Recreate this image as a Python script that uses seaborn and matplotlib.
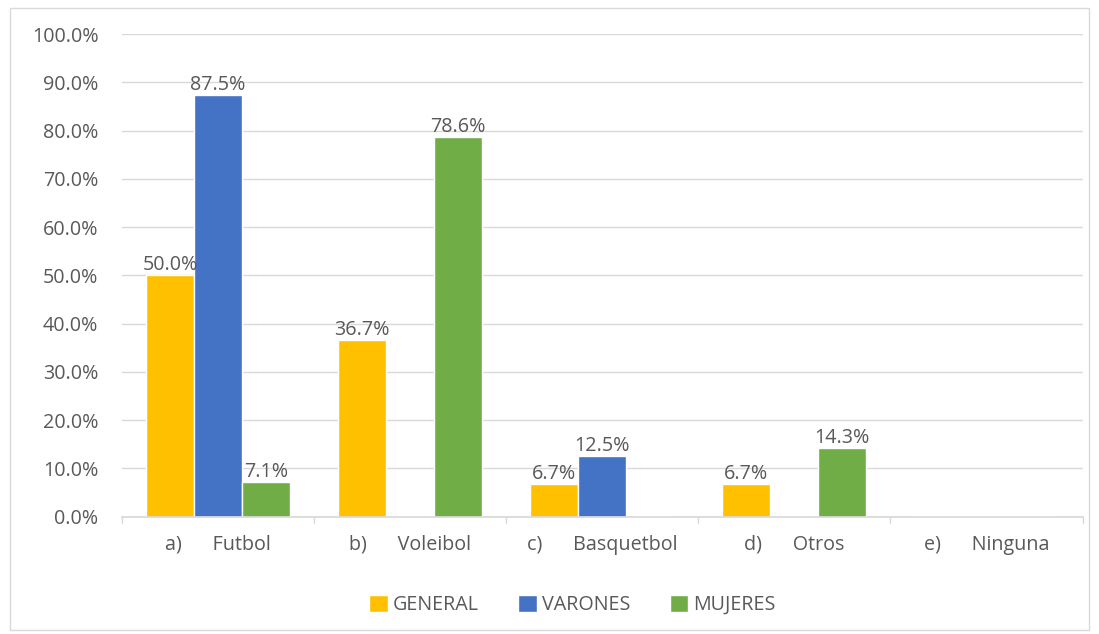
import numpy as np
import pandas as pd
import seaborn as sns
import matplotlib.pyplot as plt
from matplotlib.patches import Rectangle

categorias = ['a)      Futbol', 'b)      Voleibol', 'c)      Basquetbol', 'd)      Otros', 'e)      Ninguna']
general = [50.0, 36.7, 6.7, 6.7, 0.0]
varones = [87.5, 0.0, 12.5, 0.0, 0.0]
mujeres = [7.1, 78.6, 0.0, 14.3, 0.0]
grupos = ['GENERAL', 'VARONES', 'MUJERES']
colores = ['#FFC000', '#4472C4', '#70AD47']

df = pd.DataFrame({
    'categoria': categorias * 3,
    'grupo': [g for g in grupos for _ in categorias],
    'valor': general + varones + mujeres,
})

sns.set_theme(style='white')
plt.rcParams['font.family'] = ['Open Sans', 'DejaVu Sans']
gris = '#595959'
fs = 14.2

fig = plt.figure(figsize=(10.99, 6.34), dpi=100)
ax = fig.add_axes([0.111, 0.185, 0.874, 0.761])
fig.patches.append(Rectangle((0.009, 0.006), 0.982, 0.982, transform=fig.transFigure,
                             fill=False, edgecolor='#d9d9d9', linewidth=1))

sns.barplot(data=df, x='categoria', y='valor', hue='grupo', palette=colores,
            width=0.75, saturation=1, ax=ax, legend=True)

for cont, vals in zip(ax.containers, [general, varones, mujeres]):
    ax.bar_label(cont, labels=[f'{v:.1f}%' if v > 0 else '' for v in vals],
                 padding=0, fontsize=fs, color=gris)

ax.set_ylim(0, 100)
ax.set_xlim(-0.5, 4.5)
ax.set_yticks(np.arange(0, 101, 10))
ax.set_yticklabels([f'{t:.1f}%' for t in np.arange(0, 101, 10)], fontsize=fs, color=gris)
ax.tick_params(axis='y', length=0, pad=17)
ax.tick_params(axis='x', length=0, pad=13, labelsize=fs, labelcolor=gris)
ax.yaxis.grid(True, color='#d9d9d9', linewidth=1)
ax.set_axisbelow(True)
for s in ['top', 'right', 'left']:
    ax.spines[s].set_visible(False)
ax.spines['bottom'].set_color('#d9d9d9')
ax.set_xlabel('')
ax.set_ylabel('')
for b in np.arange(-0.5, 5, 1):
    ax.plot([b, b], [0, -1.3], color='#d9d9d9', lw=1, clip_on=False)

ax.legend(loc='upper center', bbox_to_anchor=(0.469, -0.125), ncol=3, frameon=False,
          fontsize=fs, labelcolor=gris, handlelength=0.95, handleheight=0.95,
          handletextpad=0.25, columnspacing=2.0)

fig.savefig('out.png', dpi=100)
